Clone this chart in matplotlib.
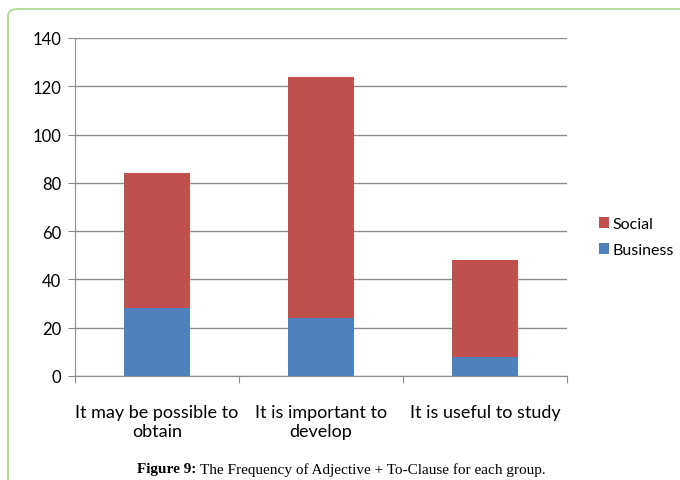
import matplotlib
matplotlib.use("Agg")
import matplotlib.pyplot as plt
from matplotlib.patches import FancyBboxPatch
import numpy as np

# frequency of adjective + to-clause per group
categories = ["It may be possible to\nobtain", "It is important to\ndevelop", "It is useful to study"]
business = [28, 24, 8]
social = [56, 100, 40]
yticks = [0, 20, 40, 60, 80, 100, 120, 140]

blue = "#4F81BD"
red = "#C0504D"
grid_c = "#8C8C8C"

plt.rcParams['font.family'] = ['Lato', 'DejaVu Sans']

fig = plt.figure(figsize=(6.8, 4.81), dpi=100)

# green rounded frame around the chart
frame = FancyBboxPatch((8 / 680, -0.2), 1.2, 1 - 10 / 481 + 0.2,
                       boxstyle="round,pad=0,rounding_size=0.015",
                       transform=fig.transFigure, facecolor="none",
                       edgecolor="#B8DC9C", linewidth=1.5, zorder=-1)
fig.patches.append(frame)

ax = fig.add_axes([75 / 680, 1 - 377 / 481, (567 - 75) / 680, (377 - 39) / 481])
ax.set_facecolor("none")

x = np.arange(len(categories))
w = 0.4
ax.bar(x, business, w, color=blue, label="Business", zorder=3)
ax.bar(x, social, w, bottom=business, color=red, label="Social", zorder=3)

ax.set_xlim(-0.5, len(categories) - 0.5)
ax.set_ylim(0, 140)
ax.set_yticks(yticks)
ax.yaxis.grid(True, color=grid_c, linewidth=1, zorder=0)
ax.set_axisbelow(True)

# category boundary ticks, labels centred under bars
ax.set_xticks(np.arange(-0.5, len(categories)), minor=False)
ax.set_xticklabels([])
ax.set_xticks(x, minor=True)
ax.set_xticklabels(categories, minor=True, fontsize=13, linespacing=1.25)
ax.tick_params(axis="x", which="minor", length=0, pad=20)
ax.tick_params(axis="x", which="major", length=5, color=grid_c)
ax.tick_params(axis="y", length=5, color=grid_c, labelsize=12, pad=5)

for s in ["top", "right"]:
    ax.spines[s].set_visible(False)
for s in ["left", "bottom"]:
    ax.spines[s].set_color(grid_c)

handles, labels = ax.get_legend_handles_labels()
ax.legend(handles[::-1], labels[::-1], loc="center left",
          bbox_to_anchor=(1.035, 0.41), frameon=False, fontsize=11.5,
          handlelength=0.65, handleheight=0.65, handletextpad=0.25,
          labelspacing=0.75)

# caption: bold figure number followed by plain text
cap_y = 1 - 470 / 481
fig.text(196 / 680, cap_y, "Figure 9:", ha="right", va="center",
         fontsize=11, fontweight="bold", family="Liberation Serif")
fig.text(200 / 680, cap_y, "The Frequency of Adjective + To-Clause for each group.",
         ha="left", va="center", fontsize=11, family="Liberation Serif")

fig.savefig("out.png", dpi=100)
